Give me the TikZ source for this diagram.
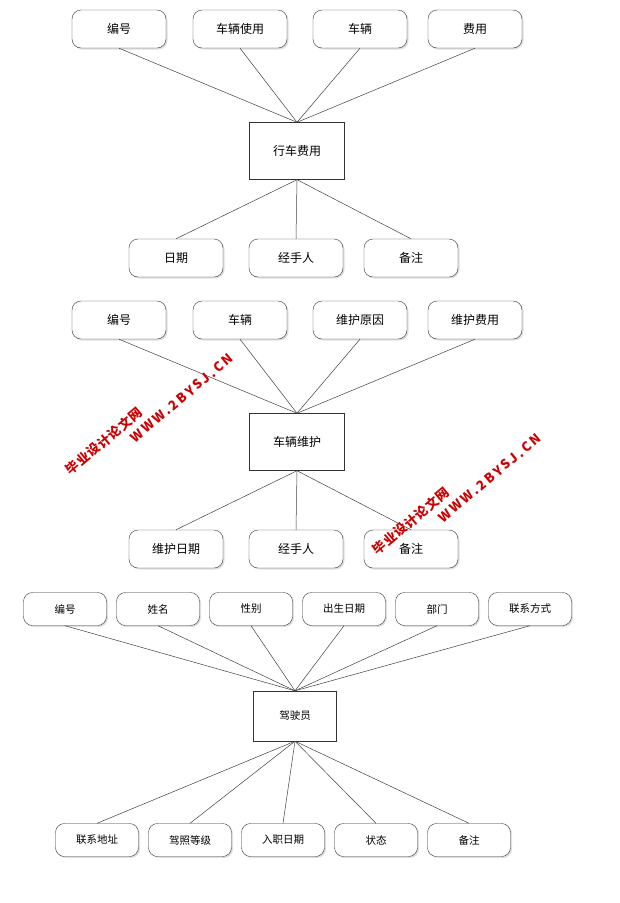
\documentclass[tikz,border=0pt]{standalone}
\usepackage{fontspec}
\newfontfamily\cjk{Noto Sans CJK SC}
\newfontfamily\cjkwide[LetterSpace=18]{Noto Sans CJK SC}
\newfontfamily\cjkmid[LetterSpace=6]{Noto Sans CJK SC}
\usetikzlibrary{shadows}
\begin{document}
\begin{tikzpicture}[x=1pt,y=-1pt,
 attr/.style={draw=black!80,rounded corners=9pt,minimum width=94pt,minimum height=38pt,fill=white,font=\cjk\fontsize{12}{14}\selectfont,drop shadow={shadow xshift=1.5pt,shadow yshift=-1.5pt,fill=black!25}},
 sattr/.style={attr,minimum width=83pt,minimum height=33pt,font=\cjk\fontsize{10.5}{12}\selectfont},
 ent/.style={draw=black!80,fill=white,minimum width=95pt,minimum height=57pt,font=\cjk\fontsize{12}{14}\selectfont},
 ln/.style={draw=black!75,line width=0.5pt},
 wm/.style={text=red!80!black,font=\bfseries\fontsize{13}{15}\selectfont,rotate=40,inner sep=0pt}]
\useasboundingbox (0,0) rectangle (620,903);
% group 1
\node[ent] (e1) at (297,151) {行车费用};
\node[attr] (a1) at (119,29) {编号};
\node[attr] (a2) at (240,29) {车辆使用};
\node[attr] (a3) at (360,29) {车辆};
\node[attr] (a4) at (475,29) {费用};
\node[attr] (b1) at (176,258) {日期};
\node[attr] (b2) at (296,258) {经手人};
\node[attr] (b3) at (411,258) {备注};
\foreach \n in {a1,a2,a3,a4} \draw[ln] (\n.south) -- (e1.north);
\foreach \n in {b1,b2,b3} \draw[ln] (e1.south) -- (\n.north);
% group 2
\node[ent] (e2) at (297,442) {车辆维护};
\node[attr] (c1) at (119,320) {编号};
\node[attr] (c2) at (240,320) {车辆};
\node[attr] (c3) at (360,320) {维护原因};
\node[attr] (c4) at (475,320) {维护费用};
\node[attr] (d1) at (176,549) {维护日期};
\node[attr] (d2) at (296,549) {经手人};
\node[attr] (d3) at (411,549) {备注};
\foreach \n in {c1,c2,c3,c4} \draw[ln] (\n.south) -- (e2.north);
\foreach \n in {d1,d2,d3} \draw[ln] (e2.south) -- (\n.north);
% group 3
\node[ent,minimum width=83pt,minimum height=50pt,font=\cjk\fontsize{10.5}{12}\selectfont] (e3) at (295,716) {驾驶员};
\node[sattr] (f1) at (65,609) {编号};
\node[sattr] (f2) at (158,609) {姓名};
\node[sattr] (f3) at (251,609) {性别};
\node[sattr] (f4) at (344,609) {出生日期};
\node[sattr] (f5) at (437,609) {部门};
\node[sattr] (f6) at (530,609) {联系方式};
\node[sattr] (g1) at (97,840) {联系地址};
\node[sattr] (g2) at (190,840) {驾照等级};
\node[sattr] (g3) at (283,840) {入职日期};
\node[sattr] (g4) at (376,840) {状态};
\node[sattr] (g5) at (469,840) {备注};
\foreach \n in {f1,f2,f3,f4,f5,f6} \draw[ln] (\n.south) -- (e3.north);
\foreach \n in {g1,g2,g3,g4,g5} \draw[ln] (e3.south) -- (\n.north);
% watermarks
\node[wm,font=\cjkmid\bfseries\fontsize{13}{15}\selectfont] (w1) at (104,441) {毕业设计论文网};
\node[wm,font=\cjkwide\bfseries\fontsize{13}{15}\selectfont] (w2) at (182,398) {WWW.2BYSJ.CN};
\node[wm,font=\cjkmid\bfseries\fontsize{13}{15}\selectfont] (w3) at (411,521) {毕业设计论文网};
\node[wm,font=\cjkwide\bfseries\fontsize{13}{15}\selectfont] (w4) at (490,478) {WWW.2BYSJ.CN};
\end{tikzpicture}
\end{document}
